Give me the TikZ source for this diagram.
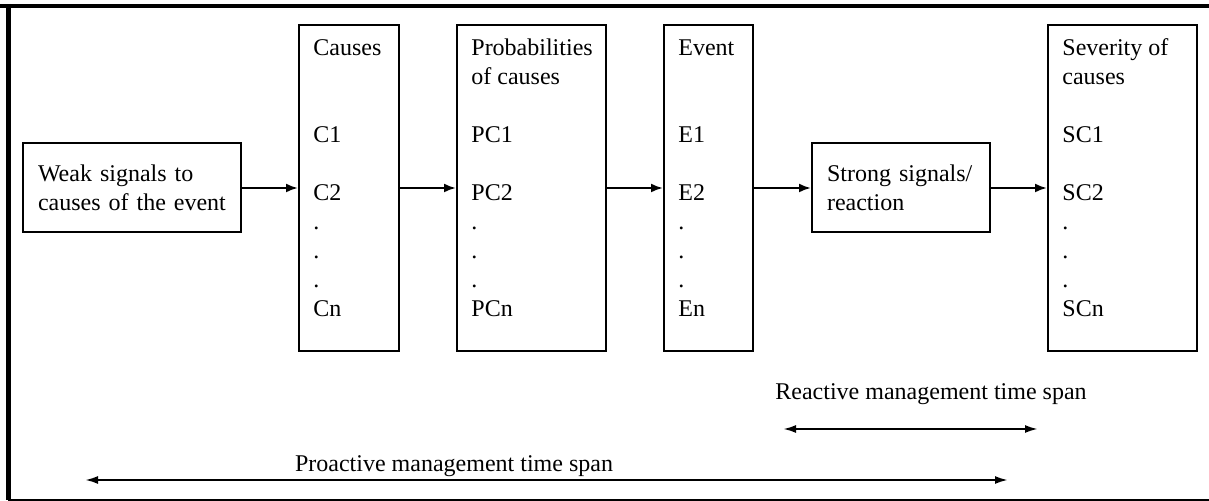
\documentclass[tikz,border=0pt]{standalone}
\usepackage{fontspec}
\setmainfont{Liberation Serif}
\usetikzlibrary{arrows.meta}

\begin{document}
\begin{tikzpicture}[x=0.5pt, y=-0.5pt, font=\fontsize{12}{14.5}\selectfont,
  box/.style={draw, line width=1pt},
  tallbox/.style={box, minimum height=163pt, inner sep=0pt},
  list/.style={anchor=north west, inner sep=0pt, align=left},
  flowbox/.style={box, minimum height=44.5pt, inner xsep=7.5pt, align=left},
  flow/.style={-{Latex[length=6pt,width=4.5pt]}, line width=1.1pt},
  span/.style={{Latex[length=6.5pt,width=4pt]}-{Latex[length=6.5pt,width=4pt]}, line width=1.1pt}]
\useasboundingbox (0,0) rectangle (1209,501);
% frame
\draw[line width=2pt] (0,6) -- (1209,6);
\draw[line width=2.5pt] (8.5,4) -- (8.5,500);
\draw[line width=0.6pt] (8,500) -- (1209,500);
% boxes
\node[flowbox, text width=94pt] (weak) at (132,188) {Weak signals to\\causes of the event};
\node[tallbox, minimum width=50pt] (causes) at (349,188) {};
\node[list] (causeslist) at ([xshift=7.5pt,yshift=-5.35pt]causes.north west)
  {\strut Causes\\[29pt]C1\\[14.5pt]C2\\.\\.\\.\\Cn};
\node[tallbox, minimum width=74.5pt] (prob) at (531.5,188) {};
\node[list] (problist) at ([xshift=7.5pt,yshift=-5.35pt]prob.north west)
  {\strut Probabilities\\of causes\\[14.5pt]PC1\\[14.5pt]PC2\\.\\.\\.\\PCn};
\node[tallbox, minimum width=44.5pt] (event) at (708.5,188) {};
\node[list] (eventlist) at ([xshift=7.5pt,yshift=-5.35pt]event.north west)
  {\strut Event\\[29pt]E1\\[14.5pt]E2\\.\\.\\.\\En};
\node[flowbox, text width=74pt] (strong) at (901,188) {Strong signals/\\reaction};
\node[tallbox, minimum width=74.5pt] (severity) at (1122.5,188) {};
\node[list] (severitylist) at ([xshift=7.5pt,yshift=-5.35pt]severity.north west)
  {\strut Severity of\\causes\\[14.5pt]SC1\\[14.5pt]SC2\\.\\.\\.\\SCn};
\foreach \a/\b in {weak/causes, causes/prob, prob/event, event/strong, strong/severity}
  \draw[flow] (\a) -- (\b);
% time spans
\node[anchor=base] (reactlabel) at (931,400) {Reactive management time span};
\coordinate (reactL) at (783,429);
\coordinate (reactR) at (1038,429);
\draw[span] (reactL) -- (reactR);
\node[anchor=base] (prolabel) at (454,472) {Proactive management time span};
\coordinate (proL) at (85,480);
\coordinate (proR) at (1008,480);
\draw[span] (proL) -- (proR);
\end{tikzpicture}
\end{document}
